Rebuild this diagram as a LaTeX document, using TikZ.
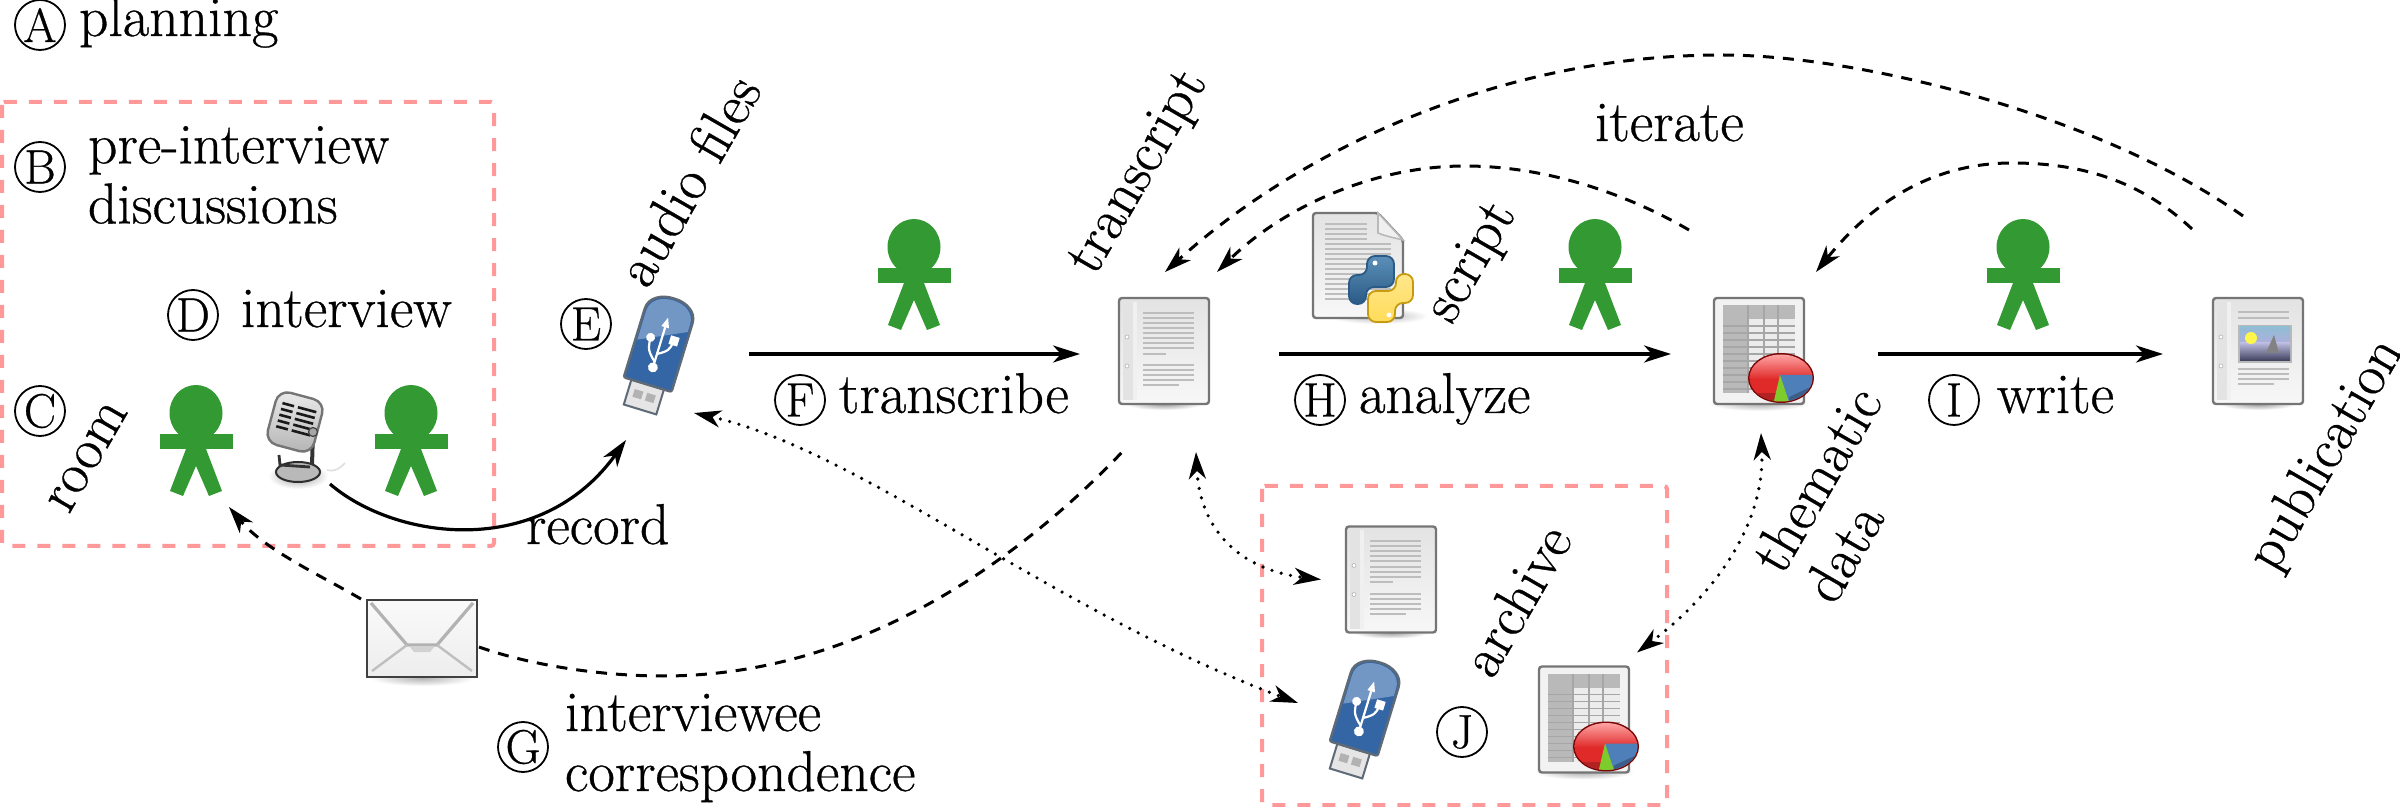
\documentclass[tikz,border=0pt]{standalone}
\usepackage{fontspec}
\setmainfont{Latin Modern Roman}[FakeBold=0.6]
\usetikzlibrary{arrows.meta}
\definecolor{grn}{HTML}{339933}
\definecolor{pinkbox}{HTML}{FF9999}
\definecolor{edgegray}{HTML}{757575}
\definecolor{linegray}{HTML}{BDBDBD}
\definecolor{usbblue}{HTML}{3465A4}
\definecolor{usblight}{HTML}{7297C5}
\definecolor{usbedge}{HTML}{5F6A77}
\definecolor{pyblue}{HTML}{3F7CAC}
\definecolor{pybluee}{HTML}{2A5A85}
\definecolor{pyyel}{HTML}{FFDC5A}
\definecolor{pyyele}{HTML}{C69B10}
\definecolor{piered}{HTML}{E02A2A}
\definecolor{piedark}{HTML}{7A0505}
\definecolor{pieblue}{HTML}{4F7FB8}
\definecolor{piegreen}{HTML}{7DCC2C}
\tikzset{
  x=0.5pt,y=-0.5pt,
  >={Stealth[length=13.5pt,width=8.5pt,inset=4pt]},
  txt/.style={inner sep=0pt,outer sep=0pt,font=\fontsize{28.8}{30}\selectfont},
  lbl/.style={txt,anchor=base west},
  rot/.style={txt,anchor=center,rotate=60},
  two/.style={txt,align=left,anchor=west},
  circled/.style={circle,draw=black,line width=0.9pt,minimum size=25pt,inner sep=0pt,font=\fontsize{24}{24}\selectfont},
  pinkrect/.style={draw=pinkbox,line width=2pt,dash pattern=on 6.5pt off 6pt,rounded corners=1.5pt},
  flow/.style={draw=black,line width=1.6pt,->},
  curvedflow/.style={draw=black,line width=1.6pt,->},
  dash1/.style={draw=black,line width=1.5pt,dash pattern=on 5.5pt off 4.5pt},
  dots1/.style={draw=black,line width=1.8pt,line cap=round,dash pattern=on 0pt off 4.8pt},
  anchorbox/.style={inner sep=0pt,outer sep=0pt,minimum size=1pt},
  page/.style={draw=edgegray,line width=1.2pt,rounded corners=1.5pt,top color=gray!22,bottom color=gray!6},
  greyline/.style={draw=linegray,line width=1pt},
  person/.pic={
    \fill[grn] (0,-27) ellipse [x radius=26.5,y radius=28];
    \fill[grn] (-36.5,-6) rectangle (36.5,9);
    \fill[grn] (-10,9) -- (-26,51) -- (-13,56) -- (0,26) -- (13,56) -- (26,51) -- (10,9) -- cycle;
  },
  docbase/.pic={
    \shade[inner color=black!40,outer color=white] (0,53) ellipse [x radius=38,y radius=6];
    \path[page] (-45,-53) rectangle (45,53);
    \fill[gray!22] (-41,-49) rectangle (-31,49);
    \fill[gray!12] (-31,-49) rectangle (-27,49);
    \fill[white,draw=gray!60,line width=0.3pt] (-37,-14) circle [radius=2];
    \fill[white,draw=gray!60,line width=0.3pt] (-37,15) circle [radius=2];
  },
  docicon/.pic={
    \pic {docbase};
    \foreach \yy in {-38,-33,-28,-23,-18,-12.5,-7.5,-2.5} \draw[greyline] (-21,\yy) -- (30,\yy);
    \draw[greyline] (-21,3) -- (2,3);
    \foreach \yy in {14,19,24,29} \draw[greyline] (-21,\yy) -- (30,\yy);
    \draw[greyline] (-21,34) -- (15,34);
  },
  pubicon/.pic={
    \pic {docbase};
    \foreach \yy in {-39,-33} \draw[greyline] (-20,\yy) -- (31,\yy);
    \fill[gray!55] (-20,-26) rectangle (34,12);
    \shade[top color=blue!35!cyan!45!gray!60,bottom color=gray!60!blue!45] (-18,-24) rectangle (32,-8);
    \shade[top color=gray!65!blue!40,bottom color=gray!80!blue!60!black] (-18,-8) rectangle (32,10);
    \fill[yellow!70!white] (-7,-13) circle [radius=6];
    \fill[gray!60!black!70] (16,-16) -- (8,2) -- (21,2) -- cycle;
    \foreach \yy in {18,23,28} \draw[greyline] (-20,\yy) -- (31,\yy);
    \draw[greyline] (-20,33) -- (16,33);
  },
  sheetbody/.pic={
    \shade[inner color=black!35,outer color=white] (0,52) ellipse [x radius=50,y radius=8];
    \path[page,top color=gray!10,bottom color=gray!10] (-45,-53) rectangle (45,53);
    \fill[gray!15] (-36,-46) rectangle (36,42);
    \fill[gray!55] (-36,-46) rectangle (36,-32);
    \fill[gray!55] (-36,-46) rectangle (-11,42);
    \foreach \yy in {-25,-18,-11,-4,3,10,17,24,31,38} \draw[gray!70,line width=0.8pt] (-36,\yy) -- (36,\yy);
    \foreach \xx in {-11,5,19} \draw[gray!70,line width=0.8pt] (\xx,-46) -- (\xx,42);
  },
  pieicon/.pic={
    \fill[piedark] (22,27) ellipse [x radius=33,y radius=25];
    \begin{scope}
      \clip (22,27) ellipse [x radius=31.5,y radius=23.5];
      \shade[top color=red!35!white,bottom color=piered] (-12,3) rectangle (56,28);
      \fill[piered] (-12,28) rectangle (56,54);
      \fill[piered!80!black] (-12,42) rectangle (56,54);
      \fill[pieblue] (21,24) -- (56,24) -- (56,38) -- (28,54) -- cycle;
      \fill[pieblue!75!black] (30,46) -- (56,34) -- (56,54) -- (30,54) -- cycle;
      \fill[piegreen] (21,24) -- (14,54) -- (31,54) -- cycle;
    \end{scope}
  },
  sheeticon/.pic={\pic {sheetbody}; \pic {pieicon};},
  usbicon/.pic={
    \begin{scope}[rotate=-17]
      \path[fill=gray!20,draw=usbedge,line width=1pt] (-17,32) rectangle (17,58);
      \fill[gray!60] (-11,40) rectangle (-2,48);
      \fill[gray!60] (2,40) rectangle (11,48);
      \path[fill=usbblue,draw=usbedge,line width=1.2pt,rounded corners=1pt] (-25,32) -- (-25,-38) .. controls (-25,-52) and (-12,-58) .. (0,-58) .. controls (12,-58) and (25,-52) .. (25,-38) -- (25,32) -- cycle;
      \fill[usblight] (-23,-8) -- (-23,-38) .. controls (-23,-50) and (-12,-56) .. (0,-56) .. controls (12,-56) and (23,-50) .. (23,-38) -- (23,-30) -- cycle;
      \draw[white,line width=1.1pt] (0,14) -- (0,-28);
      \fill[white] (0,-38) -- (-4,-28) -- (4,-28) -- cycle;
      \fill[white] (0,14) circle [radius=5];
      \draw[white,line width=1.1pt] (0,8) .. controls (-12,-2) and (-10,-6) .. (-11,-14);
      \fill[white] (-11,-14) circle [radius=4.5];
      \draw[white,line width=1.1pt] (0,0) .. controls (10,-6) and (11,-8) .. (12,-16);
      \fill[white] (8,-22) rectangle (17,-13);
    \end{scope}
  },
  micicon/.pic={
    \shade[inner color=black!40,outer color=white] (2,36) ellipse [x radius=30,y radius=13];
    \draw[gray!25,line width=0.8pt] (31,30) .. controls (40,32) and (44,28) .. (49,23);
    \path[fill=gray!55,draw=gray!35!black,line width=1pt] (2,32) ellipse [x radius=22,y radius=10];
    \path[draw=gray!40!black,line width=1.4pt] (-17,15) -- (-16,25) -- (14,27);
    \draw[gray!40!black,line width=2pt] (17,-8) -- (16,25);
    \begin{scope}[shift={(-1,-18)},rotate=-15]
      \path[draw=edgegray,line width=1.2pt,rounded corners=6pt,top color=gray!15,bottom color=gray!60] (-24,-27) rectangle (24,27);
      \foreach \yy in {-15,-9,-3,3,9} {
        \draw[black!90,line width=1.3pt] (-17,\yy) -- (-5,\yy);
        \draw[black!90,line width=1.3pt] (-1,\yy) -- (18,\yy);
      }
    \end{scope}
    \path[fill=gray!70,draw=gray!50!black,line width=0.6pt] (17,-8) circle [radius=4.5];
  },
  envicon/.pic={
    \shade[inner color=black!30,outer color=white] (0,40) ellipse [x radius=52,y radius=8];
    \path[draw=gray!50!black,line width=1.4pt,top color=gray!4,bottom color=gray!14] (-55,-38) rectangle (55,39);
    \draw[gray!60,line width=1.6pt] (-51,-35) -- (-15,7) -- (15,7) -- (51,-35);
    \draw[gray!50,line width=1.2pt] (-15,7) -- (-50,33);
    \draw[gray!50,line width=1.2pt] (15,7) -- (50,33);
    \fill[gray!35] (-13,8) -- (13,8) -- (8,14) -- (-8,14) -- cycle;
  },
  scripticon/.pic={
    \shade[inner color=black!30,outer color=white] (20,51) ellipse [x radius=50,y radius=8];
    \path[page,rounded corners=1.5pt] (-45,-52) -- (20,-52) -- (45,-25) -- (45,53) -- (-45,53) -- cycle;
    \path[fill=gray!12,draw=gray!55,line width=0.8pt] (20,-52) -- (20,-32) .. controls (30,-28) and (38,-27) .. (45,-25) -- cycle;
    \foreach \yy in {-41,-36,-31,-26} \draw[greyline] (-33,\yy) -- (9,\yy);
    \foreach \yy in {-21,-16,-11,-6,-1,4,9,14,19,24,29,34} \draw[greyline] (-33,\yy) -- (33,\yy);
    \begin{scope}[shift={(23,24)}]
      \path[draw=pybluee,line width=0.9pt,top color=pyblue!85!white,bottom color=pybluee,rounded corners=4pt]
        (-14,-14) -- (-14,-33) -- (13,-33) -- (13,-2) -- (-15,-2) -- (-15,15) -- (-32,15) -- (-32,-14) -- cycle;
      \path[draw=pyyele,line width=0.9pt,top color=pyyel!70!white,bottom color=pyyel,rounded corners=4pt]
        (14,14) -- (14,33) -- (-13,33) -- (-13,2) -- (15,2) -- (15,-15) -- (32,-15) -- (32,14) -- cycle;
      \fill[white] (-6,-26) circle [radius=2.5];
      \fill[white] (8,26) circle [radius=2.5];
    \end{scope}
  },
}
\begin{document}
\begin{tikzpicture}
\useasboundingbox (0,0) rectangle (2400,807);
\fill[white] (0,0) rectangle (2400,807);
% dashed rooms
\path[pinkrect] (2,102) rectangle (494,546);
\path[pinkrect] (1262,486) rectangle (1667,805);
% icons
\node[anchorbox] (p1) at (196,440) {}; \pic at (p1) {person};
\node[anchorbox] (p2) at (411,440) {}; \pic at (p2) {person};
\node[anchorbox] (p3) at (914,274) {}; \pic at (p3) {person};
\node[anchorbox] (p4) at (1595,274) {}; \pic at (p4) {person};
\node[anchorbox] (p5) at (2023,274) {}; \pic at (p5) {person};
\node[anchorbox] (mic) at (296,440) {}; \pic at (mic) {micicon};
\node[anchorbox] (usbA) at (657,354) {}; \pic at (usbA) {usbicon};
\node[anchorbox] (usbB) at (1363,718) {}; \pic at (usbB) {usbicon};
\node[anchorbox] (doc1) at (1164,351) {}; \pic at (doc1) {docicon};
\node[anchorbox] (doc2) at (1391,579.5) {}; \pic at (doc2) {docicon};
\node[anchorbox] (pub) at (2258,351) {}; \pic at (pub) {pubicon};
\node[anchorbox] (sheet1) at (1759,351) {}; \pic at (sheet1) {sheeticon};
\node[anchorbox] (sheet2) at (1584,719.5) {}; \pic at (sheet2) {sheeticon};
\node[anchorbox] (env) at (422,638) {}; \pic at (env) {envicon};
\node[anchorbox] (scr) at (1358,265) {}; \pic at (scr) {scripticon};
% circled letters
\node[circled] (cA) at (40,25) {A};
\node[circled] (cB) at (40,167) {B};
\node[circled] (cC) at (40,411) {C};
\node[circled] (cD) at (193,315) {D};
\node[circled] (cE) at (586,324) {E};
\node[circled] (cF) at (800,400) {F};
\node[circled] (cG) at (523,747) {G};
\node[circled] (cH) at (1320,400) {H};
\node[circled] (cI) at (1954,400) {I};
\node[circled] (cJ) at (1462,732) {J};
% labels
\node[lbl] (tA) at (79,36) {planning};
\node[two] (tB) at (88,175) {pre-interview\\discussions};
\node[lbl] (tD) at (241,327) {interview};
\node[lbl] (tF) at (839,413) {transcribe};
\node[lbl] (tH) at (1359,413) {analyze};
\node[lbl] (tI) at (1997,413) {write};
\node[lbl] (tG) at (526,544) {record};
\node[two] (tG2) at (565,748) {interviewee\\correspondence};
\node[lbl] (tIt) at (1595,141) {iterate};
\node[rot] (room) at (88,457) {room};
\node[rot] (audio) at (688,180) {audio files};
\node[rot] (trans) at (1140,173) {transcript};
\node[rot] (script) at (1473,263) {script};
\node[rot] (arch) at (1516,600) {archive};
\node[rot,align=left] (them) at (1842,494) {thematic\\data};
\node[rot] (publ) at (2327,455) {publication};
% connectors
\draw[curvedflow] ([shift={(34,44)}]mic.center) .. controls (395,540) and (540,560) .. ([shift={(-31,86)}]usbA.center);
\draw[flow] ([shift={(92,0)}]usbA.center) -- ([shift={(-84,3)}]doc1.center);
\draw[flow] ([shift={(115,3)}]doc1.center) -- ([shift={(-88,3)}]sheet1.center);
\draw[flow] ([shift={(119,3)}]sheet1.center) -- ([shift={(-95,3)}]pub.center);
\draw[dash1,->] ([shift={(-15,-135)}]pub.center) .. controls (2100,115) and (1860,55) .. (1722,55) .. controls (1500,55) and (1300,150) .. ([shift={(1,-79)}]doc1.center);
\draw[dash1,->] ([shift={(-70,-121)}]sheet1.center) .. controls (1620,190) and (1540,166) .. (1465,166) .. controls (1370,166) and (1280,210) .. ([shift={(53,-79)}]doc1.center);
\draw[dash1,->] ([shift={(-66,-122)}]pub.center) .. controls (2140,180) and (2080,163) .. (2012,163) .. controls (1930,163) and (1870,205) .. ([shift={(57,-79)}]sheet1.center);
\draw[dash1] ([shift={(57,9)}]env.center) .. controls (530,665) and (600,676) .. (663,676) .. controls (860,676) and (1020,560) .. ([shift={(-38,97)}]doc1.center);
\draw[dash1,->] ([shift={(-61,-39)}]env.center) .. controls (320,575) and (265,550) .. ([shift={(33,67)}]p1.center);
\draw[dots1,<->] ([shift={(37,59)}]usbA.center) .. controls (860,450) and (1050,610) .. ([shift={(-65,-15)}]usbB.center);
\draw[dots1,<->] ([shift={(32,101)}]doc1.center) .. controls (1200,530) and (1240,570) .. ([shift={(-70,0)}]doc2.center);
\draw[dots1,<->] ([shift={(2,82)}]sheet1.center) .. controls (1765,520) and (1720,590) .. ([shift={(53,-67)}]sheet2.center);
\end{tikzpicture}
\end{document}
